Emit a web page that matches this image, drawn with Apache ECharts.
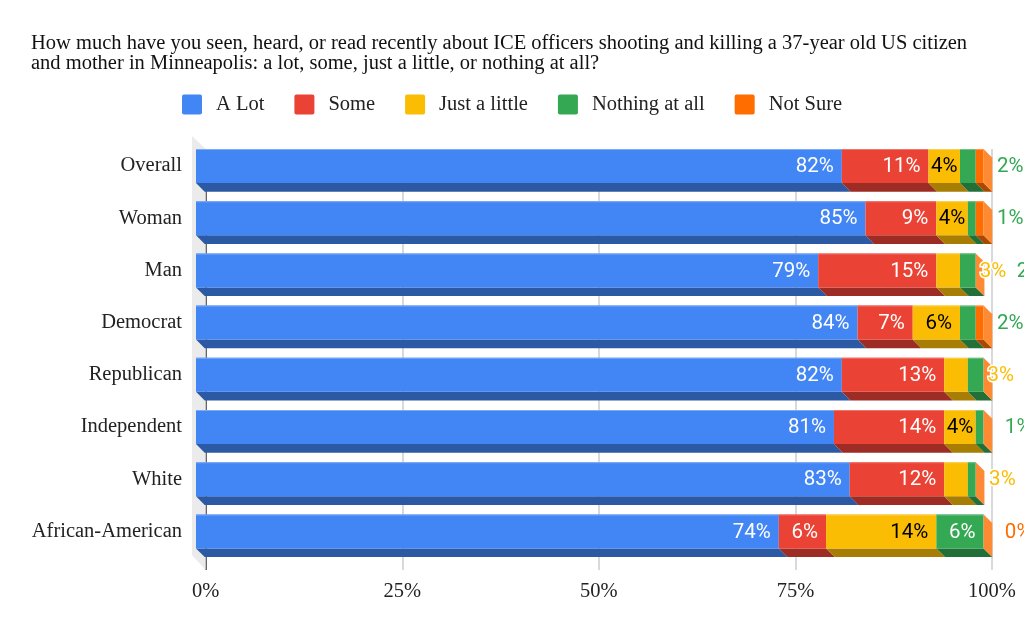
<!DOCTYPE html>
<html><head><meta charset="utf-8">
<style>html,body{margin:0;padding:0;background:#fff}#c{width:1024px;height:633px}</style>
<script src="https://cdn.jsdelivr.net/npm/echarts@6/dist/echarts.min.js"></script>
</head><body><div id="c"></div>
<script>
const titleText = "How much have you seen, heard, or read recently about ICE officers shooting and killing a 37-year old US citizen\nand mother in Minneapolis: a lot, some, just a little, or nothing at all?";
const categories = ["Overall","Woman","Man","Democrat","Republican","Independent","White","African-American"];
const seriesNames = ["A Lot","Some","Just a little","Nothing at all","Not Sure"];
const aLot    = [82,85,79,84,82,81,83,74];
const some    = [11,9,15,7,13,14,12,6];
const little  = [4,4,3,6,3,4,3,14];
const nothing = [2,1,2,2,2,1,1,6];
const notSure = [1,1,0,1,0,0,0,0];
// values whose label sits inside the segment, one row per series
const insideFlags = [
  [1,1,1,1,1,1,1,1],
  [1,1,1,1,1,1,1,1],
  [1,1,0,1,0,1,0,1],
  [0,0,0,0,0,0,0,1],
  [0,0,0,0,0,0,0,0]
];
// labels that fall outside the bars: row, series, axis position of their left edge
const outsideRow    = [0,1,2,2,3,4,5,6,7];
const outsideSeries = [3,3,2,3,3,2,3,2,4];
const outsideValue  = [2,1,3,2,2,3,1,3,0];
const outsideAt     = [101.7,101.7,99.5,104.2,101.7,100.5,102.7,100.7,102.7];

const front  = ["#4285f4","#ea4335","#fbbc04","#34a853","#ff6d01"];
const topEdge= ["#7baaf7","#f1736a","#fcd04f","#71c287","#ff994d"];
const under  = ["#2c59a3","#9c2c24","#a77d03","#236f38","#a94801"];
const sideFace = "#ff8a34";
const serif = "'Liberation Serif','Times New Roman',serif";
const depth = 8.7;
const allValues = [aLot,some,little,nothing,notSure];

const running = categories.map(()=>0);
const series = seriesNames.map((name,s)=>{
  const data = categories.map((c,r)=>{
    const start = running[r];
    running[r] += allValues[s][r];
    return [start,running[r],r,allValues[s][r],insideFlags[s][r]];
  });
  return {
    name, type:'custom', xAxisIndex:1, yAxisIndex:1, z:5,
    itemStyle:{color:front[s]},
    encode:{x:[0,1],y:2},
    data,
    renderItem(params,api){
      const a=api.coord([api.value(0),api.value(2)]);
      const b=api.coord([api.value(1),api.value(2)]);
      const h=api.size([0,1])[1]*0.651;
      const x0=a[0],x1=b[0],yt=a[1]-h/2,yb=a[1]+h/2;
      const kids=[
        {type:'polygon',shape:{points:[[x0,yb],[x1,yb],[x1+depth,yb+depth],[x0+depth,yb+depth]]},style:{fill:under[s]}},
        {type:'rect',shape:{x:x0,y:yt,width:x1-x0,height:h},style:{fill:front[s]}},
        {type:'rect',shape:{x:x0,y:yt,width:x1-x0,height:1},style:{fill:topEdge[s]}}
      ];
      if(s===seriesNames.length-1){
        kids.push({type:'polygon',shape:{points:[[x1,yt],[x1+depth,yt+depth],[x1+depth,yb+depth],[x1,yb]]},style:{fill:sideFace}});
      }
      if(api.value(4)){
        const narrow=(x1-x0)<40;
        kids.push({type:'text',z2:10,style:{x:narrow?(x0+x1)/2:x1-8,y:a[1]+1,text:api.value(3)+'%',align:narrow?'center':'right',verticalAlign:'middle',
          font:"20.5px Roboto",fill:s===2?'#000':'#fff'}});
      }
      return {type:'group',children:kids};
    }
  };
});

series.push({
  name:'wall',type:'custom',xAxisIndex:0,yAxisIndex:0,z:1,silent:true,
  data:[[0,1,0]],encode:{x:0,y:[1,2]},
  renderItem(params,api){
    const t=api.coord([0,1]),b=api.coord([0,0]);
    return {type:'polygon',shape:{points:[[t[0]-13.7,t[1]-13],[t[0],t[1]],[b[0],b[1]],[b[0]-13.7,b[1]-15]]},style:{fill:'#ebebeb'}};
  }
});

series.push({
  name:'outside',type:'custom',xAxisIndex:1,yAxisIndex:1,z:8,silent:true,
  data:outsideRow.map((r,i)=>[outsideAt[i],r,outsideValue[i],outsideSeries[i]]),
  encode:{x:0,y:1},
  renderItem(params,api){
    const p=api.coord([api.value(0),api.value(1)]);
    return {type:'text',style:{x:p[0],y:p[1]+1,text:api.value(2)+'%',align:'left',verticalAlign:'middle',
      font:"20.5px Roboto",fill:front[api.value(3)],stroke:'#fff',lineWidth:3}};
  }
});

const chart = echarts.init(document.getElementById('c'),null,{renderer:'canvas'});
chart.setOption({
  backgroundColor:'#fff',animation:false,
  title:{text:titleText,left:26,top:29,textStyle:{fontFamily:serif,fontSize:20.5,fontWeight:'normal',color:'#111',lineHeight:20}},
  legend:{data:seriesNames,left:177,top:89,icon:'path://M2 0H18Q20 0 20 2V18Q20 20 18 20H2Q0 20 0 18V2Q0 0 2 0Z',itemWidth:20,itemHeight:20,itemGap:30,
    textStyle:{fontFamily:serif,fontSize:20.5,color:'#222',padding:[0,0,0,9]},selectedMode:false},
  grid:[
    {left:205.7,width:786.3,top:149,height:421},
    {left:196,width:787.6,top:139.9,height:417.6}
  ],
  xAxis:[
    {gridIndex:0,type:'value',min:0,max:100,interval:25,position:'bottom',
      axisLine:{show:false},axisTick:{show:false},
      splitLine:{show:true,lineStyle:{color:['#333','#ccc','#ccc','#ccc','#ccc'],width:1.5}},
      axisLabel:{formatter:'{value}%',fontFamily:serif,fontSize:20.5,color:'#222',margin:11}},
    {gridIndex:1,type:'value',min:0,max:100,show:false}
  ],
  yAxis:[
    {gridIndex:0,type:'value',min:0,max:1,show:false},
    {gridIndex:1,type:'category',inverse:true,data:categories,
      axisLine:{show:false},axisTick:{show:false},splitLine:{show:false},
      axisLabel:{fontFamily:serif,fontSize:20.5,color:'#222',margin:14,padding:[4,0,0,0]}}
  ],
  series
});
</script></body></html>
